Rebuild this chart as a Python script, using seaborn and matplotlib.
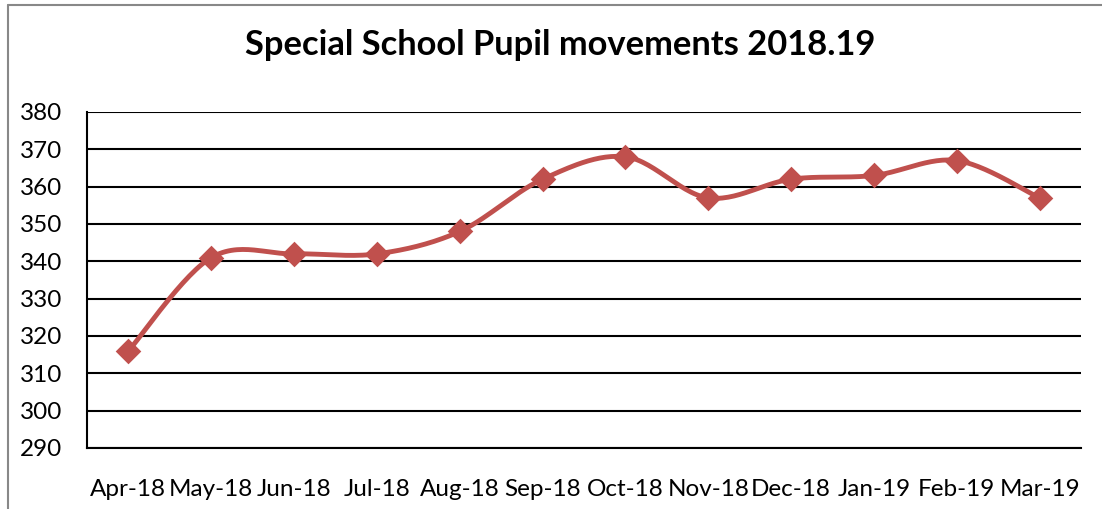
import numpy as np
import pandas as pd
import matplotlib
matplotlib.use("Agg")
import matplotlib.pyplot as plt
import seaborn as sns

months = ["Apr-18", "May-18", "Jun-18", "Jul-18", "Aug-18", "Sep-18",
          "Oct-18", "Nov-18", "Dec-18", "Jan-19", "Feb-19", "Mar-19"]
pupils = [316, 341, 342, 342, 348, 362, 368, 357, 362, 363, 367, 357]
y_ticks = [290, 300, 310, 320, 330, 340, 350, 360, 370, 380]
title = "Special School Pupil movements 2018.19"

sns.set_theme(style="white")
plt.rcParams["font.family"] = ["Lato", "DejaVu Sans"]

color = "#C0504D"
df = pd.DataFrame({"month": months, "pupils": pupils, "x": np.arange(len(months))})

fig = plt.figure(figsize=(11.02, 5.09), dpi=100)
ax = fig.add_axes([87 / 1102, 1 - 448 / 509, (1081 - 87) / 1102, (448 - 112) / 509])


def smooth(xs, ys, n=30):
    # Bezier smoothing similar to spreadsheet "smoothed line"
    xs = np.asarray(xs, float)
    ys = np.asarray(ys, float)
    px = np.concatenate([[xs[0]], xs, [xs[-1]]])
    py = np.concatenate([[ys[0]], ys, [ys[-1]]])
    ox, oy = [], []
    t = np.linspace(0, 1, n)
    for i in range(1, len(px) - 2):
        p0 = np.array([px[i], py[i]])
        p3 = np.array([px[i + 1], py[i + 1]])
        c1 = p0 + (np.array([px[i + 1], py[i + 1]]) - np.array([px[i - 1], py[i - 1]])) / 6
        c2 = p3 - (np.array([px[i + 2], py[i + 2]]) - np.array([px[i], py[i]])) / 6
        b = ((1 - t) ** 3)[:, None] * p0 + (3 * (1 - t) ** 2 * t)[:, None] * c1 \
            + (3 * (1 - t) * t ** 2)[:, None] * c2 + (t ** 3)[:, None] * p3
        ox.extend(b[:, 0])
        oy.extend(b[:, 1])
    return np.array(ox), np.array(oy)


sx, sy = smooth(df["x"], df["pupils"])
ax.plot(sx, sy, color=color, lw=3.5, solid_capstyle="round", zorder=3)
sns.scatterplot(data=df, x="x", y="pupils", marker="D", s=170, color=color,
                edgecolor=color, linewidth=0, ax=ax, zorder=4)

ax.set_xlim(-0.5, len(months) - 0.5)
ax.set_ylim(290, 380)
ax.set_yticks(y_ticks)
ax.set_yticklabels([str(v) for v in y_ticks])
ax.set_xticks(np.arange(len(months)))
ax.set_xticklabels(months)
ax.tick_params(axis="both", length=0, labelsize=17.5, colors="black")
ax.tick_params(axis="x", pad=22)
ax.tick_params(axis="y", pad=18)
ax.yaxis.grid(True, color="black", lw=1.5)
ax.set_axisbelow(True)
ax.set_xlabel("")
ax.set_ylabel("")
for side in ["top", "right"]:
    ax.spines[side].set_visible(False)
for side in ["left", "bottom"]:
    ax.spines[side].set_color("black")
    ax.spines[side].set_linewidth(1.5)

fig.text(0.508, 1 - 45 / 509, title, ha="center", va="center",
         fontsize=24.8, fontweight="bold", color="black")

# outer chart border (left and top visible)
fig.add_artist(plt.Line2D([8 / 1102, 8 / 1102], [0, 1 - 5 / 509], color="#888888", lw=1.5,
                          transform=fig.transFigure))
fig.add_artist(plt.Line2D([8 / 1102, 1], [1 - 5 / 509, 1 - 5 / 509], color="#888888", lw=1.5,
                          transform=fig.transFigure))

fig.savefig("out.png", dpi=100, facecolor="white")
